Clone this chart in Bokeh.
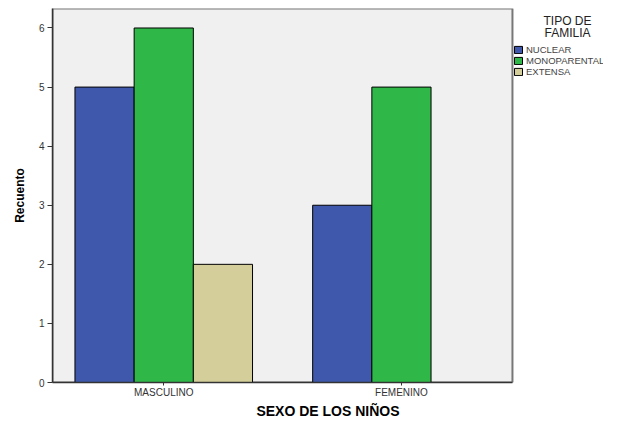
import numpy as np
from bokeh.plotting import figure
from bokeh.models import Range1d, FixedTicker, Legend, LegendItem, ColumnDataSource, Label
from bokeh.embed import file_html
from bokeh.resources import INLINE

categories = ["MASCULINO", "FEMENINO"]
series_names = ["NUCLEAR", "MONOPARENTAL", "EXTENSA"]
nuclear = [5, 3]
monoparental = [6, 5]
extensa = [2, 0]
y_ticks = [0, 1, 2, 3, 4, 5, 6]
legend_title = ["TIPO DE", "FAMILIA"]

colors = ["#3f58ab", "#2fb848", "#d4cf9a"]
offsets = [-0.249, 0.0, 0.249]
bar_w = 0.249

FONT = "Liberation Sans"

# plot-area extent (in axis units); extra room on the right holds the legend
X0, X1, XLEG = -0.468, 1.467, 1.850
Y0, Y1 = 0, 6.33

p = figure(width=603, height=421, output_backend="svg", toolbar_location=None,
           x_range=Range1d(X0, XLEG), y_range=Range1d(Y0, Y1),
           min_border_left=52, min_border_top=8, min_border_bottom=35, min_border_right=0)

p.background_fill_color = "white"
p.border_fill_color = "white"
p.grid.visible = False
p.outline_line_color = None

# grey plot area with its frame
p.quad(left=[X0], right=[X1], bottom=[Y0], top=[Y1], fill_color="#f0f0f0",
       line_color="#777777", line_width=2)

xs = np.arange(len(categories))
items = []
for name, vals, col, off in zip(series_names, [nuclear, monoparental, extensa], colors, offsets):
    src = ColumnDataSource(dict(x=xs + off, top=vals))
    r = p.vbar(x="x", top="top", width=bar_w, bottom=0, source=src,
               fill_color=col, line_color="black", line_width=1)
    items.append(LegendItem(label=name, renderers=[r]))

p.xaxis.ticker = FixedTicker(ticks=[float(v) for v in xs])
p.xaxis.major_label_overrides = {float(i): c for i, c in zip(xs, categories)}
p.xaxis.minor_tick_line_color = None
p.xaxis.bounds = (X0, X1)
p.yaxis.ticker = FixedTicker(ticks=y_ticks)
p.yaxis.minor_tick_line_color = None

for ax in (p.xaxis, p.yaxis):
    ax.axis_line_color = "#333333"
    ax.axis_line_width = 1.5
    ax.major_tick_line_color = "#333333"
    ax.major_tick_out = 5
    ax.major_tick_in = 0
    ax.major_label_text_font = FONT
    ax.major_label_text_font_size = "10px"
    ax.major_label_text_color = "#333333"
    ax.axis_label_text_font = FONT
    ax.axis_label_text_font_style = "bold"
    ax.axis_label_text_color = "black"

p.xaxis.major_tick_out = 3
p.xaxis.axis_label = "SEXO DE LOS NIÑOS"
p.xaxis.axis_label_text_font_size = "14px"
p.xaxis.axis_label_standoff = 2
p.xaxis.major_label_standoff = 1
p.yaxis.axis_label = "Recuento"
p.yaxis.axis_label_text_font_size = "12px"
p.yaxis.axis_label_standoff = 9
p.yaxis.major_label_standoff = 3

legend = Legend(items=items, location=(461, 305),
                label_text_font=FONT, label_text_font_size="9.5px",
                glyph_width=10, glyph_height=9, label_height=11, spacing=0,
                label_standoff=3, padding=0, margin=0, border_line_color=None,
                background_fill_alpha=0)
p.add_layout(legend, "center")

for txt, yy in zip(legend_title, [362, 350]):
    p.add_layout(Label(x=515, y=yy, x_units="screen", y_units="screen", text=txt,
                       text_font=FONT, text_font_size="12px", text_align="center",
                       text_baseline="middle", text_color="#222222"))

open("out.html", "w").write(file_html(p, INLINE))
